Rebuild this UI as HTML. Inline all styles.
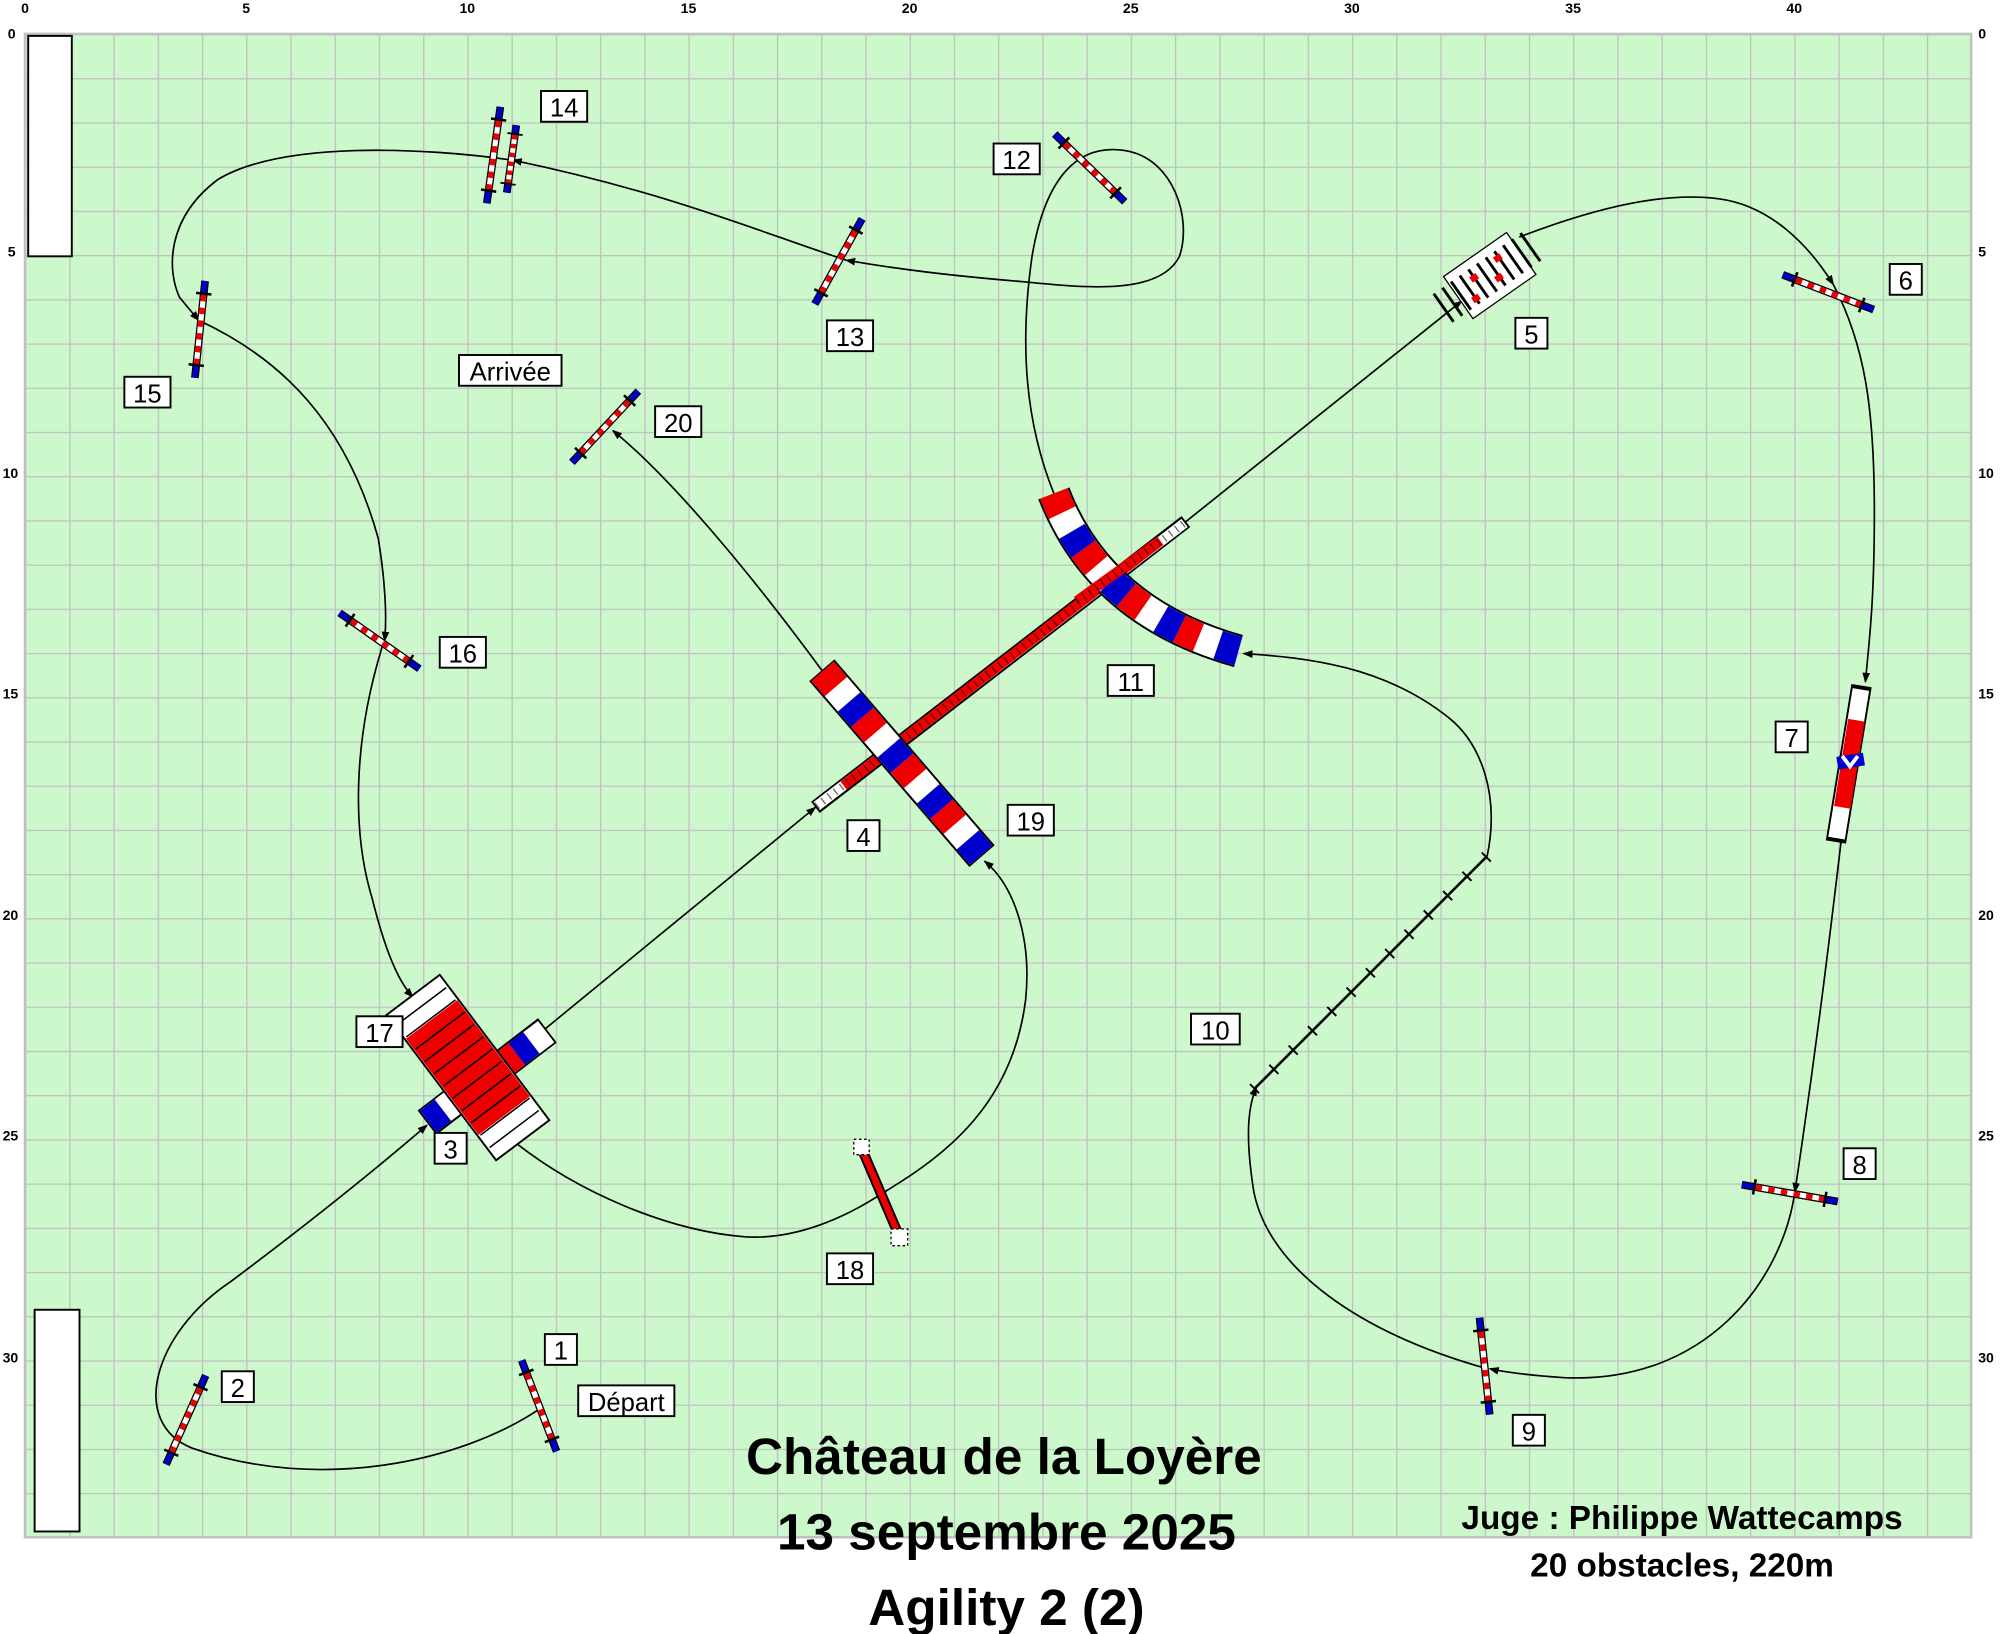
<!DOCTYPE html>
<html><head><meta charset="utf-8"><style>
html,body{margin:0;padding:0;background:#fff;}
svg{display:block;}
.n{font-family:"Liberation Sans",sans-serif;font-size:20px;fill:#000;}
.ax{font-family:"Liberation Sans",sans-serif;font-size:11px;font-weight:bold;fill:#000;}
.t{font-family:"Liberation Sans",sans-serif;font-weight:bold;fill:#000;text-anchor:middle;}
</style></head><body>
<svg width="2000" height="1634" viewBox="0 0 1560 1275" preserveAspectRatio="none" xmlns="http://www.w3.org/2000/svg">
<defs>
<pattern id="g" x="19.5" y="26.5" width="34.5" height="34.5" patternUnits="userSpaceOnUse">
<rect width="34.5" height="34.5" fill="#ccf8cc"/>
<path d="M0 0H34.5M0 0V34.5" stroke="#c0c0c0" stroke-width="2" fill="none"/>
</pattern>
<g id="j">
<line x1="-38" y1="0" x2="38" y2="0" stroke="#000" stroke-width="6"/>
<line x1="-27" y1="0" x2="27" y2="0" stroke="#fff" stroke-width="4"/>
<line x1="-27" y1="0" x2="27" y2="0" stroke="#e00" stroke-width="4" stroke-dasharray="5 5"/>
<line x1="-38" y1="0" x2="-27" y2="0" stroke="#00c" stroke-width="4"/>
<line x1="27" y1="0" x2="38" y2="0" stroke="#00c" stroke-width="4"/>
<line x1="-28" y1="-6" x2="-28" y2="6" stroke="#000" stroke-width="2"/>
<line x1="28" y1="-6" x2="28" y2="6" stroke="#000" stroke-width="2"/>
</g>
<marker id="a" markerWidth="8" markerHeight="8" refX="7" refY="4" orient="auto" markerUnits="userSpaceOnUse"><path d="M0 1L8 4L0 7z" fill="#000"/></marker>
</defs>
<rect x="0" y="0" width="1560" height="1275" fill="#fff"/>
<rect x="19.5" y="26.5" width="1518" height="1173" fill="url(#g)" stroke="#c0c0c0" stroke-width="2"/>
<g class="ax" text-anchor="middle">
<text x="19.5" y="10">0</text><text x="192" y="10">5</text><text x="364.5" y="10">10</text><text x="537" y="10">15</text><text x="709.5" y="10">20</text><text x="882" y="10">25</text><text x="1054.5" y="10">30</text><text x="1227" y="10">35</text><text x="1399.5" y="10">40</text>
</g>
<g class="ax">
<text x="6" y="30">0</text><text x="6" y="200">5</text><text x="2" y="373">10</text><text x="2" y="545">15</text><text x="2" y="718">20</text><text x="2" y="890">25</text><text x="2" y="1063">30</text>
<text x="1543" y="30">0</text><text x="1543" y="200">5</text><text x="1543" y="373">10</text><text x="1543" y="545">15</text><text x="1543" y="718">20</text><text x="1543" y="890">25</text><text x="1543" y="1063">30</text>
</g>
<rect x="22" y="28" width="34" height="172" fill="#fff" stroke="#000" stroke-width="1.5"/>
<rect x="27" y="1022" width="35" height="173" fill="#fff" stroke="#000" stroke-width="1.5"/>

<g fill="none" stroke="#000" stroke-width="1.3" marker-end="url(#a)">
<path d="M420,1100 C360,1140 250,1165 150,1130 C100,1110 120,1040 180,1000 C240,955 290,915 333,878"/>
<path d="M425,803 L636,630"/>
<path d="M925,407 L1140,235"/>
<path d="M1185,185 C1250,160 1300,150 1340,155 C1380,160 1410,190 1430,222"/>
<path d="M1430,222 C1455,270 1462,320 1462,400 C1462,470 1458,500 1455,532"/>
<path d="M1436,657 C1425,750 1415,830 1400,930"/>
<path d="M1400,930 C1390,1000 1330,1080 1220,1075 C1190,1073 1170,1070 1162,1068"/>
<path d="M1160,1068 C1060,1040 990,990 978,930 C970,880 975,860 980,848"/>
<path d="M1160,668 C1170,620 1155,580 1130,560 C1080,520 1020,513 970,510"/>
<path d="M822,385 C800,330 795,270 805,200 C815,140 840,110 880,118 C915,125 930,170 920,200 C905,230 850,225 800,220 C740,215 700,210 660,203"/>
<path d="M660,203 C590,180 520,150 400,125"/>
<path d="M400,125 C330,115 220,110 170,140 C130,170 130,210 140,232 L155,250"/>
<path d="M155,250 C220,280 270,330 295,420 C300,450 302,480 300,500"/>
<path d="M298,505 C275,580 275,650 290,700 C300,740 310,765 322,778"/>
<path d="M400,890 C450,930 520,960 580,965 C620,968 660,950 690,930"/>
<path d="M690,930 C740,900 790,860 800,780 C805,730 790,690 768,672"/>
<path d="M641,523 C580,440 520,370 478,336"/>
</g>

<use href="#j" transform="translate(420.5,1097) rotate(69)"/>
<use href="#j" transform="translate(145,1108) rotate(114)"/>
<use href="#j" transform="translate(1426,228) rotate(21)"/>
<use href="#j" transform="translate(1396,931) rotate(10)"/>
<use href="#j" transform="translate(1158,1066) rotate(84)"/>
<use href="#j" transform="translate(850,131) rotate(44)"/>
<use href="#j" transform="translate(654,204) rotate(119)"/>
<use href="#j" transform="translate(156,257) rotate(96)"/>
<use href="#j" transform="translate(296,500) rotate(35)"/>
<use href="#j" transform="translate(472,333) rotate(133)"/>
<use href="#j" transform="translate(385,121) rotate(98)"/>
<use href="#j" transform="translate(399,124) rotate(98) scale(0.7,1)"/>

<line x1="672" y1="896" x2="702" y2="966" stroke="#000" stroke-width="8"/>
<line x1="672" y1="896" x2="702" y2="966" stroke="#e00" stroke-width="5"/>
<rect x="666" y="889" width="12" height="12" fill="#fff" stroke="#000" stroke-dasharray="2 2"/>
<rect x="695" y="959" width="13" height="13" fill="#fff" stroke="#000" stroke-dasharray="2 2"/>

<line x1="978" y1="850" x2="1160" y2="668" stroke="#000" stroke-width="2"/>
<line x1="978" y1="850" x2="1160" y2="668" stroke="#000" stroke-width="10" stroke-dasharray="1.5 19.8"/>

<g transform="translate(1162,215) rotate(-35)">
<rect x="-30" y="-20" width="60" height="40" fill="#fff" stroke="#000"/>
<line x1="-30" y1="0" x2="30" y2="0" stroke="#000" stroke-width="40" stroke-dasharray="1.5 4" fill="none" transform="rotate(90) scale(0.67,1.5) rotate(-90)"/>
<rect x="-14" y="-8" width="6" height="5" fill="#e00"/><rect x="2" y="3" width="6" height="5" fill="#e00"/><rect x="10" y="-10" width="6" height="5" fill="#e00"/><rect x="-22" y="6" width="6" height="5" fill="#e00"/>
</g>

<line x1="1452" y1="535" x2="1432" y2="657" stroke="#000" stroke-width="16"/>
<line x1="1451.5" y1="538" x2="1432.5" y2="654" stroke="#fff" stroke-width="13"/>
<line x1="1448" y1="562" x2="1437" y2="630" stroke="#e00" stroke-width="13"/>
<rect x="1433" y="589" width="21" height="10" fill="#00c" transform="rotate(-9 1443 594)"/>
<path d="M1437,590 L1443,598 L1449,590" stroke="#fff" stroke-width="3" fill="none"/>

<line x1="636" y1="630" x2="925" y2="407" stroke="#000" stroke-width="11"/>
<line x1="637" y1="629" x2="924" y2="408" stroke="#fff" stroke-width="8"/>
<line x1="658" y1="613" x2="905" y2="422" stroke="#e00" stroke-width="8"/>
<line x1="637" y1="629" x2="924" y2="408" stroke="#000" stroke-width="6" stroke-dasharray="1 5" opacity="0.6"/>

<line x1="641" y1="523" x2="766" y2="668" stroke="#000" stroke-width="26"/>
<line x1="641.7" y1="523.8" x2="765.3" y2="667.2" stroke="#fff" stroke-width="23" pathLength="12"/>
<line x1="641.7" y1="523.8" x2="765.3" y2="667.2" stroke="#e00" stroke-width="23" pathLength="12" stroke-dasharray="1 2"/>
<line x1="641.7" y1="523.8" x2="765.3" y2="667.2" stroke="#00c" stroke-width="23" pathLength="12" stroke-dasharray="1 2" stroke-dashoffset="-2"/>

<path d="M822,385 Q858,478 966,508" stroke="#000" stroke-width="26" fill="none"/>
<path d="M822,385 Q858,478 966,508" stroke="#fff" stroke-width="23" fill="none" pathLength="12"/>
<path d="M822,385 Q858,478 966,508" stroke="#e00" stroke-width="23" fill="none" pathLength="12" stroke-dasharray="1 2"/>
<path d="M822,385 Q858,478 966,508" stroke="#00c" stroke-width="23" fill="none" pathLength="12" stroke-dasharray="1 2" stroke-dashoffset="-2"/>
<line x1="840" y1="469" x2="905" y2="422" stroke="#e00" stroke-width="8"/>
<line x1="840" y1="469" x2="905" y2="422" stroke="#000" stroke-width="6" stroke-dasharray="1 5" opacity="0.6"/>

<line x1="333" y1="876" x2="427" y2="804" stroke="#000" stroke-width="24"/>
<line x1="334" y1="875" x2="426" y2="805" stroke="#fff" stroke-width="21" pathLength="8"/>
<line x1="334" y1="875" x2="426" y2="805" stroke="#00c" stroke-width="21" pathLength="8" stroke-dasharray="1 2"/>
<line x1="334" y1="875" x2="426" y2="805" stroke="#e00" stroke-width="21" pathLength="8" stroke-dasharray="1 2" stroke-dashoffset="-2"/>

<g transform="translate(365,833) rotate(53)">
<rect x="-71" y="-26" width="142" height="52" fill="#fff" stroke="#000" stroke-width="1.5"/>
<rect x="-47" y="-25" width="94" height="50" fill="#e00"/>
<g stroke="#000" stroke-width="1.2">
<line x1="-60" y1="-24" x2="-60" y2="24"/><line x1="-48" y1="-24" x2="-48" y2="24"/><line x1="-36" y1="-24" x2="-36" y2="24"/><line x1="-24" y1="-24" x2="-24" y2="24"/><line x1="-12" y1="-24" x2="-12" y2="24"/><line x1="0" y1="-24" x2="0" y2="24"/><line x1="12" y1="-24" x2="12" y2="24"/><line x1="24" y1="-24" x2="24" y2="24"/><line x1="36" y1="-24" x2="36" y2="24"/><line x1="48" y1="-24" x2="48" y2="24"/><line x1="60" y1="-24" x2="60" y2="24"/>
</g>
</g>

<g fill="#fff" stroke="#000" stroke-width="1.5">
<rect x="422" y="71" width="36" height="24"/><rect x="775" y="112" width="36" height="24"/><rect x="645" y="250" width="36" height="24"/><rect x="97" y="294" width="36" height="24"/><rect x="511" y="317" width="36" height="24"/><rect x="343" y="497" width="36" height="24"/><rect x="864" y="519" width="36" height="24"/><rect x="786" y="628" width="36" height="24"/><rect x="661" y="640" width="25" height="24"/><rect x="278" y="793" width="36" height="24"/><rect x="339" y="884" width="25" height="24"/><rect x="645" y="978" width="36" height="24"/><rect x="425" y="1041" width="25" height="24"/><rect x="173" y="1070" width="25" height="24"/><rect x="1182" y="248" width="25" height="24"/><rect x="1474" y="206" width="25" height="24"/><rect x="1385" y="563" width="25" height="24"/><rect x="1438" y="896" width="25" height="24"/><rect x="1180" y="1104" width="25" height="24"/><rect x="929" y="791" width="38" height="24"/>
<rect x="358" y="277" width="80" height="24"/><rect x="451" y="1081" width="75" height="24"/>
</g>
<g class="n" text-anchor="middle">
<text x="440" y="91">14</text><text x="793" y="132">12</text><text x="663" y="270">13</text><text x="115" y="314">15</text><text x="529" y="337">20</text><text x="361" y="517">16</text><text x="882" y="539">11</text><text x="804" y="648">19</text><text x="673.5" y="660">4</text><text x="296" y="813">17</text><text x="351.5" y="904">3</text><text x="663" y="998">18</text><text x="437.5" y="1061">1</text><text x="185.5" y="1090">2</text><text x="1194.5" y="268">5</text><text x="1486.5" y="226">6</text><text x="1397.5" y="583">7</text><text x="1450.5" y="916">8</text><text x="1192.5" y="1124">9</text><text x="948" y="811">10</text>
<text x="398" y="297">Arrivée</text><text x="488.5" y="1101">Départ</text>
</g>

<text class="t" x="783" y="1150" font-size="40">Château de la Loyère</text>
<text class="t" x="785" y="1209" font-size="40">13 septembre 2025</text>
<text class="t" x="785" y="1268" font-size="40">Agility 2 (2)</text>
<text class="t" x="1312" y="1193" font-size="26">Juge : Philippe Wattecamps</text>
<text class="t" x="1312" y="1230" font-size="26">20 obstacles, 220m</text>
</svg>
</body></html>
